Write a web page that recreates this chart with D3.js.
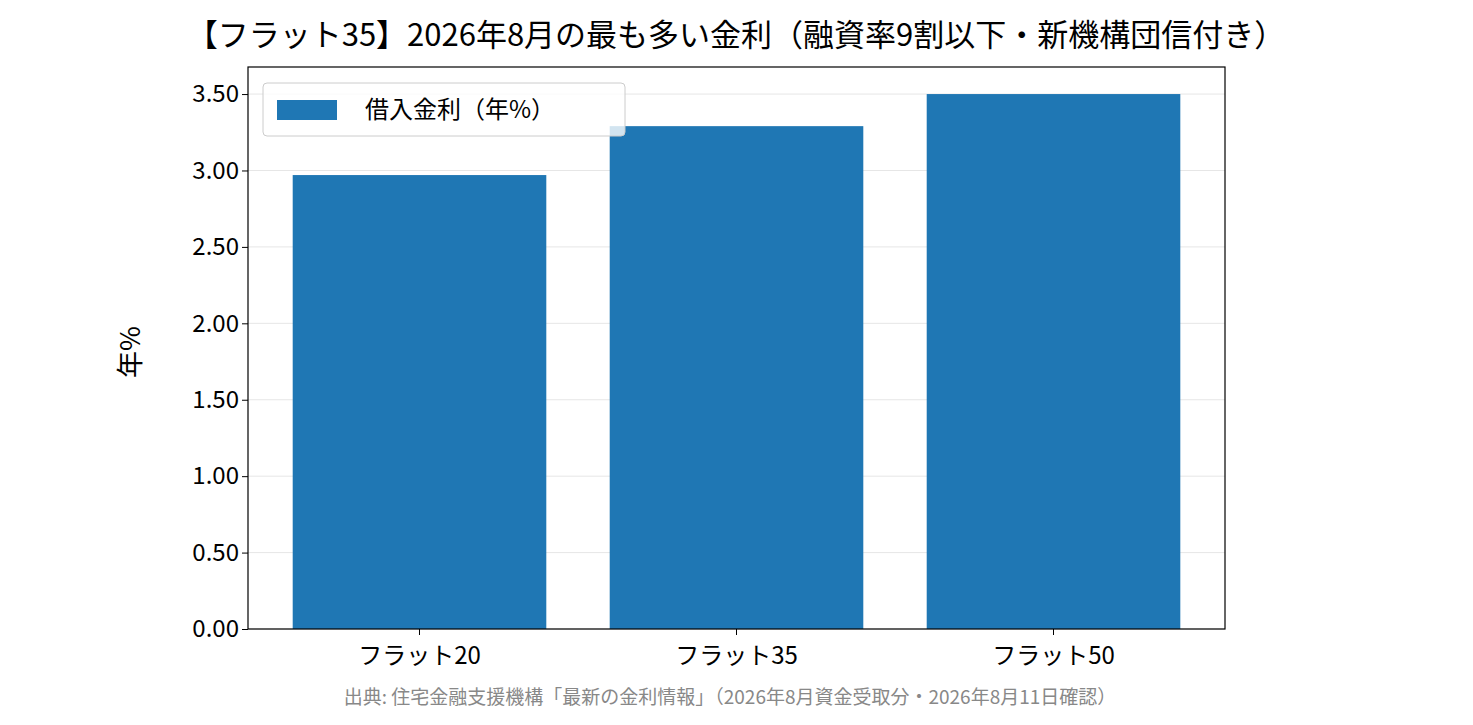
<!DOCTYPE html>
<html><head><meta charset="utf-8">
<script src="https://cdn.jsdelivr.net/npm/d3@7"></script>
<style>body{margin:0;background:#fff}text{font-family:"Noto Sans CJK JP","Noto Sans",sans-serif}</style>
</head><body><div id="chart"></div>
<script>
const categories = ["フラット20", "フラット35", "フラット50"];
const rates = [2.97, 3.29, 3.50];
const yTicks = [0, 0.5, 1, 1.5, 2, 2.5, 3, 3.5];

const W = 1473, H = 725;
const m = { top: 67, right: 248, bottom: 96, left: 248 };
const w = 1225 - m.left, h = 629 - m.top;

const svg = d3.select("#chart").append("svg").attr("width", W).attr("height", H);
const g = svg.append("g").attr("transform", `translate(${m.left},${m.top})`);

const x = d3.scaleBand().domain(categories).range([0, w]).paddingInner(0.2).paddingOuter(0.141);
const y = d3.scaleLinear().domain([0, 3.677]).range([h, 0]);

// grid
g.selectAll(".grid").data(yTicks).enter().append("line")
  .attr("x1", 0).attr("x2", w).attr("y1", d => y(d)).attr("y2", d => y(d))
  .attr("stroke", "#e6e6e6").attr("stroke-width", 1);

g.selectAll(".bar").data(rates).enter().append("rect")
  .attr("x", (d, i) => x(categories[i])).attr("width", x.bandwidth())
  .attr("y", d => y(d)).attr("height", d => h - y(d)).attr("fill", "#1f77b4");

g.append("rect").attr("width", w).attr("height", h).attr("fill", "none").attr("stroke", "#000").attr("stroke-width", 1.2);

g.append("g").attr("transform", `translate(0,${h})`)
  .call(d3.axisBottom(x).tickSize(6).tickSizeOuter(0))
  .call(a => { a.select(".domain").remove(); a.selectAll("text").attr("font-size", 24).attr("fill", "#000").attr("dy", "1.1em"); });

g.append("g")
  .call(d3.axisLeft(y).tickValues(yTicks).tickFormat(d3.format(".2f")).tickSize(6).tickSizeOuter(0))
  .call(a => { a.select(".domain").remove(); a.selectAll("text").attr("font-size", 24).attr("fill", "#000"); });

svg.append("text").attr("transform", "translate(140,352) rotate(-90)").attr("text-anchor", "middle")
  .attr("font-size", 27).text("年%");

svg.append("text").attr("x", 736).attr("y", 46).attr("text-anchor", "middle")
  .attr("font-size", 31).text("【フラット35】2026年8月の最も多い金利（融資率9割以下・新機構団信付き）");

// legend
const lg = svg.append("g").attr("transform", "translate(263,83)");
lg.append("rect").attr("width", 362).attr("height", 53).attr("rx", 4).attr("fill", "#fff").attr("fill-opacity", 0.8).attr("stroke", "#ccc");
lg.append("rect").attr("x", 14).attr("y", 17).attr("width", 60).attr("height", 20).attr("fill", "#1f77b4");
lg.append("text").attr("x", 102).attr("y", 35).attr("font-size", 24).text("借入金利（年%）");

svg.append("text").attr("x", 730).attr("y", 704).attr("text-anchor", "middle")
  .attr("font-size", 19).attr("fill", "#888")
  .text("出典: 住宅金融支援機構「最新の金利情報」（2026年8月資金受取分・2026年8月11日確認）");
</script></body></html>
